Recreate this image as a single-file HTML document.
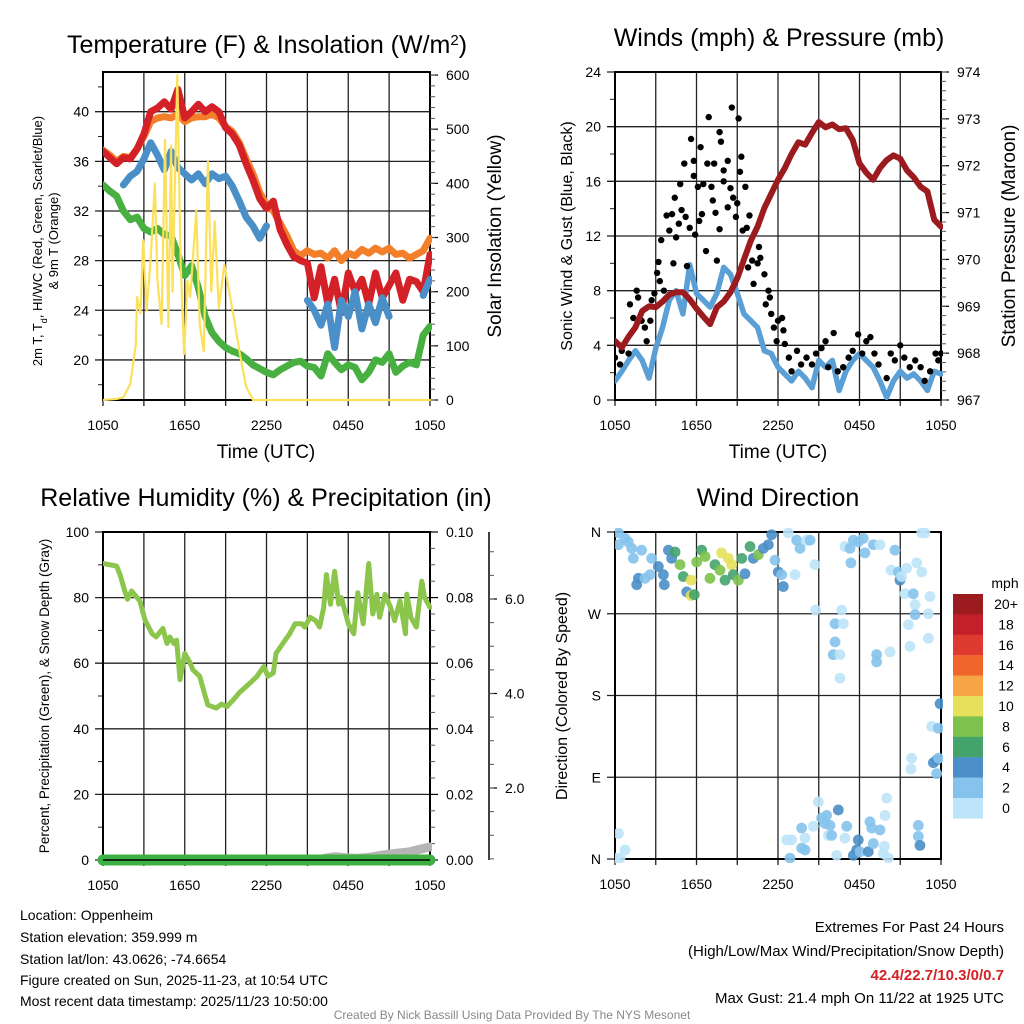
<!DOCTYPE html>
<html><head><meta charset="utf-8"><style>
html,body{margin:0;padding:0;background:#fff;}
svg{display:block;font-family:"Liberation Sans",Arial,sans-serif;}
</style></head><body>
<svg id="chart" width="1024" height="1024" viewBox="0 0 1024 1024" xmlns="http://www.w3.org/2000/svg">
<rect x="0" y="0" width="1024" height="1024" fill="#fff"/>
<text x="267" y="53" font-size="25" text-anchor="middle">Temperature (F) &amp; Insolation (W/m<tspan baseline-shift="super" font-size="15">2</tspan>)</text>
<text x="779" y="46" font-size="25" text-anchor="middle">Winds (mph) &amp; Pressure (mb)</text>
<text x="266" y="506" font-size="25" text-anchor="middle">Relative Humidity (%) &amp; Precipitation (in)</text>
<text x="778" y="506" font-size="25" text-anchor="middle">Wind Direction</text>
<text x="266" y="458" font-size="19" text-anchor="middle">Time (UTC)</text>
<text x="778" y="458" font-size="19" text-anchor="middle">Time (UTC)</text>
<text transform="translate(42,241) rotate(-90)" font-size="13" text-anchor="middle">2m T, T<tspan baseline-shift="sub" font-size="9">d</tspan>, HI/WC (Red, Green, Scarlet/Blue)</text>
<text transform="translate(58,241) rotate(-90)" font-size="13" text-anchor="middle">&amp; 9m T (Orange)</text>
<text transform="translate(501,236) rotate(-90)" font-size="19" text-anchor="middle">Solar Insolation (Yellow)</text>
<text transform="translate(572,236) rotate(-90)" font-size="16" text-anchor="middle">Sonic Wind &amp; Gust (Blue, Black)</text>
<text transform="translate(1015,236) rotate(-90)" font-size="19" text-anchor="middle">Station Pressure (Maroon)</text>
<text transform="translate(49,696) rotate(-90)" font-size="13.5" text-anchor="middle">Percent, Precipitation (Green), &amp; Snow Depth (Gray)</text>
<text transform="translate(567,696) rotate(-90)" font-size="16" text-anchor="middle">Direction (Colored By Speed)</text>
<text x="1005" y="588" font-size="14" text-anchor="middle">mph</text>
<g font-size="14">
<text x="20" y="920">Location: Oppenheim</text>
<text x="20" y="942">Station elevation: 359.999 m</text>
<text x="20" y="964">Station lat/lon: 43.0626; -74.6654</text>
<text x="20" y="985">Figure created on Sun, 2025-11-23, at 10:54 UTC</text>
<text x="20" y="1006">Most recent data timestamp: 2025/11/23 10:50:00</text>
</g>
<g font-size="15" text-anchor="end">
<text x="1004" y="932">Extremes For Past 24 Hours</text>
<text x="1004" y="956">(High/Low/Max Wind/Precipitation/Snow Depth)</text>
<text x="1004" y="980" fill="#d42027" font-weight="bold">42.4/22.7/10.3/0/0.7</text>
<text x="1004" y="1003">Max Gust: 21.4 mph On 11/22 at 1925 UTC</text>
</g>
<text x="512" y="1019" font-size="12" fill="#888" text-anchor="middle">Created By Nick Bassill Using Data Provided By The NYS Mesonet</text>
</svg>
<script>
// ---------- data ----------
const xTickLabels = ["1050","1650","2250","0450","1050"];
const tempRed = [36.8,36.3,35.8,36.3,36.2,37.0,38.2,40.0,40.3,40.8,40.2,41.8,39.5,40.0,40.6,40.0,40.4,40.0,38.7,38.2,37.3,35.8,34.5,33.0,32.2,32.8,30.5,29.3,28.3,28.0,27.8,25.0,27.5,24.5,26.5,23.8,27.0,25.5,26.5,24.5,27.0,25.0,26.0,27.0,24.8,26.5,26.3,25.5,28.5];
const temp9m = [36.9,36.5,36.0,36.4,36.3,37.0,38.0,39.2,39.5,39.6,39.5,39.8,39.2,39.5,39.6,39.6,39.8,39.5,38.8,38.4,37.5,36.2,35.0,33.5,32.5,32.0,31.0,30.0,28.8,28.4,28.8,28.5,28.6,28.2,28.8,28.0,28.6,28.4,28.9,28.6,29.0,28.7,29.0,28.5,28.6,28.2,28.5,28.8,29.8];
const tempWC = [null,null,null,34.1,34.8,35.2,36.2,37.5,36.5,35.3,36.8,35.5,35.0,34.5,35.0,34.2,35.0,34.6,34.8,34.0,32.8,31.5,30.8,29.8,30.8,null,null,null,26.8,null,24.8,24.0,22.8,24.5,21.0,24.8,23.5,25.5,22.5,24.5,23.0,25.0,23.5,null,null,null,null,25.2,26.5];
const dewpoint = [34.1,33.6,33.2,32.0,31.3,31.5,30.6,30.3,30.6,30.1,30.0,28.5,26.8,27.6,25.8,23.5,22.2,21.5,21.0,20.7,20.5,20.1,19.6,19.3,19.0,18.8,19.2,19.5,19.8,19.9,19.5,19.4,18.7,20.5,19.8,19.2,19.6,19.4,18.4,19.0,20.0,19.8,20.5,19.0,19.5,19.8,19.6,22.0,22.7];
const solarHours = [0,1.0,1.5,2.0,2.4,2.5,2.75,2.95,3.2,3.5,3.8,4.0,4.3,4.55,4.8,5.0,5.1,5.45,5.7,5.95,6.2,6.4,6.85,7.1,7.4,7.7,7.95,8.2,8.5,8.9,9.55,10.05,10.5,11.0,24];
const solarVals = [0,2,5,30,100,190,160,295,165,260,400,220,140,480,135,470,200,600,250,85,220,190,350,140,90,440,200,330,170,250,160,85,25,0,0];
const windSpeed = [1.4,2.1,2.9,3.6,2.9,1.6,3.8,5.3,7.3,8.0,6.3,9.9,7.8,7.3,6.8,7.8,9.7,9.2,7.8,6.3,5.8,5.3,3.6,3.4,2.4,1.9,1.4,2.1,1.6,0.9,2.9,2.4,2.9,0.7,2.1,2.9,3.4,2.9,2.4,1.4,0.2,1.4,2.1,1.6,1.9,1.4,0.7,2.1,1.9];
const pressure = [968.26,968.12,968.35,968.55,968.9,969.0,968.98,969.1,969.25,969.3,969.3,969.15,968.95,968.78,968.62,968.98,969.1,969.3,969.6,970.0,970.4,970.7,971.1,971.4,971.7,971.95,972.25,972.5,972.45,972.7,972.93,972.82,972.88,972.78,972.8,972.55,972.05,971.85,971.7,971.95,972.12,972.22,972.15,971.9,971.75,971.55,971.45,970.85,970.7];
const gustHours = [0,0.37,0.5,1.0,1.1,1.35,1.6,1.7,1.96,2.2,2.33,2.6,2.7,2.9,3.1,3.2,3.3,3.4,3.6,3.8,4.0,4.2,4.3,4.4,4.5,4.7,4.8,4.9,5.1,5.2,5.3,5.5,5.6,5.8,5.8,5.9,6.1,6.2,6.3,6.4,6.5,6.7,6.8,6.9,7.1,7.2,7.3,7.4,7.5,7.7,7.7,7.8,8.0,8.0,8.3,8.3,8.5,8.6,8.7,8.9,9.0,9.1,9.2,9.3,9.4,9.6,9.7,9.8,9.9,10.1,10.2,10.5,10.6,10.7,11.0,11.1,11.3,11.4,11.5,11.7,11.9,12.0,12.3,12.4,12.5,12.8,13.0,13.4,13.7,14.1,14.5,14.8,15.2,15.5,15.7,16.1,16.4,16.8,17.2,17.5,17.9,18.2,18.5,18.8,19.1,19.4,20.0,20.3,20.6,21.0,21.3,21.7,22.1,22.5,22.8,23.2,23.6,23.8,24.0];
const gustVals = [3.1,2.6,3.6,3.4,7.0,6.0,8.0,7.5,5.8,5.3,4.3,5.8,7.3,7.8,9.3,10.1,8.7,11.7,8.0,13.5,12.4,13.6,10.0,14.8,11.9,12.9,15.8,13.9,17.3,13.4,9.8,12.6,19.1,16.4,17.5,12.1,15.6,13.1,18.5,13.6,15.8,10.9,17.3,20.7,15.6,14.6,17.3,13.7,10.2,12.5,19.6,18.9,16.0,16.8,17.5,14.1,15.5,21.4,14.8,13.4,14.4,20.6,16.7,17.8,12.4,15.6,12.6,9.7,13.5,10.2,8.5,10.0,11.2,10.4,9.2,7.0,8.0,7.5,6.3,5.3,4.3,5.8,6.0,5.1,4.1,3.1,2.1,3.6,2.6,3.1,2.6,3.4,3.8,4.3,2.4,4.9,2.1,2.4,3.1,3.6,4.8,3.4,4.3,4.6,3.4,2.6,1.6,3.4,2.9,4.0,3.1,2.4,2.9,2.4,1.4,2.1,3.4,2.9,3.4];
const rhHours = [0,1.0,1.25,1.6,1.8,2.1,2.7,3.1,3.6,3.9,4.4,4.7,4.9,5.2,5.4,5.65,6.0,6.4,6.6,7.1,7.5,7.7,8.3,8.7,9.1,9.6,10.0,10.8,11.3,11.8,12.1,12.5,12.7,13.2,13.7,14.1,14.6,14.8,15.2,15.6,15.9,16.2,16.4,16.7,17.0,17.3,17.5,18.0,18.4,18.7,19.1,19.5,19.8,20.1,20.3,20.7,21.1,21.4,21.8,22.2,22.3,22.6,23.0,23.4,23.6,24.0];
const rhVals = [90.4,89.6,87,82,79.5,82,79,73,69,68,70.6,66,68,66,67,55,63,60,58,56,50,47.3,46.3,47.5,46.8,49,51,54,56,59,56,57,63,66,69,72,72,71,74,73,71,77,87,78,88,78,80,72,69,81.5,72,90.4,75,81,74,81,77,73,79,69,81,74,71,85,80,77];
const precipHours = [0,24];
const precipVals = [0,0];
const snowHours = [16.2,17,18.5,19.5,20.5,21.5,22.5,23.5,24];
const snowVals = [0.5,1,0.5,0.8,1.5,2,2.5,3.5,4];
const dirHours = [0.25,0.74,0.98,0.25,1.23,1.35,1.96,1.72,1.6,2.21,2.7,2.58,3.19,3.56,3.63,3.93,4.17,4.42,4.79,5.03,5.28,5.6,5.6,5.84,6.01,6.38,6.63,6.99,7.36,7.73,7.85,8.1,8.34,8.59,8.71,9.08,9.33,9.57,9.94,10.18,10.55,10.92,11.29,11.53,11.78,12.02,12.27,12.39,13.25,12.76,13.37,13.62,14.11,14.36,14.72,14.77,16.2,16.2,16.07,16.56,16.56,16.69,16.81,16.93,17.3,17.37,17.55,17.91,18.28,18.4,19.02,19.51,19.26,19.26,20.25,20.32,20.61,20.86,20.98,21.1,21.47,21.35,21.96,22.09,22.21,22.09,22.58,22.58,22.82,23.07,23.19,21.6,21.72,23.07,
23.93,23.31,23.8,23.68,23.44,23.8,21.84,21.79,23.68,
0.25,0.74,0.37,0,12.64,13.0,12.88,13.74,13.99,13.74,13.99,14.6,14.97,15.21,15.46,15.58,15.83,15.71,15.95,16.44,16.32,16.93,17.06,17.55,17.79,17.91,18.04,18.65,18.77,18.9,19.02,19.51,19.88,20.0,19.83,19.75,20.12,22.33,22.33,22.45];
const dirDegrees = [359,353,349,346,342,331,340,309,302,309,331,313,322,313,302,340,331,338,324,311,294,307,290,291,327,340,333,309,324,318,337,307,331,324,313,307,331,314,344,331,335,342,346,357,329,316,313,300,313,359,351,342,351,351,324,274,259,239,225,225,199,274,259,344,342,326,351,349,353,337,346,346,225,217,228,318,340,316,307,311,320,292,292,280,326,269,316,359,359,270,289,258,234,243,
171,146,144,109,106,111,111,99,94,
28,10,1,1,21,21,1,34,23,12,10,36,63,45,39,48,37,26,26,54,4,23,36,4,10,21,8,8,41,34,17,32,48,67,14,6,1,37,25,15];
const dirSpeeds = [3,3,3,3,3,3,3,5,5,3,3,3,5,5,5,5,5,7,9,7,5,11,11,7,9,7,9,9,7,9,11,7,11,11,7,9,7,5,7,5,9,5,5,5,3,5,3,5,1,1,3,3,1,3,1,1,3,3,3,1,1,1,1,1,3,3,3,3,3,3,3,1,3,3,1,1,3,3,5,1,1,1,3,1,1,3,1,1,1,1,1,1,1,1,
5,1,3,5,5,3,1,1,3,
1,1,1,1,1,1,3,3,1,3,3,1,1,3,3,3,3,1,3,5,1,1,3,5,5,5,3,5,3,3,3,3,1,1,1,1,1,3,3,5];
const cbLabels = ["20+","18","16","14","12","10","8","6","4","2","0"];
const cbColors = ["#9b1b1e","#c4202b","#de3a2f","#f0652b","#f7a444","#e6e05a","#7dc24c","#44a36b","#4a8fc8","#85c3ec","#bde4f8"];

// ---------- helpers ----------
const NS = "http://www.w3.org/2000/svg";
const svg = document.getElementById("chart");
function mk(tag, attrs, parent) {
  const e = document.createElementNS(NS, tag);
  for (const k in attrs) e.setAttribute(k, attrs[k]);
  (parent || svg).appendChild(e);
  return e;
}
function scale(d0, d1, r0, r1) { return v => r0 + (v - d0) / (d1 - d0) * (r1 - r0); }
function pathFrom(xs, ys, sx, sy) {
  let d = "", pen = false;
  for (let i = 0; i < xs.length; i++) {
    if (ys[i] === null || ys[i] === undefined) { pen = false; continue; }
    d += (pen ? "L" : "M") + sx(xs[i]).toFixed(1) + "," + sy(ys[i]).toFixed(1);
    pen = true;
  }
  return d;
}
const halfHours = tempRed.map((_, i) => i * 0.5);

const panels = [
  {id:"temperature", x0:103, x1:430, y0:72, y1:400},
  {id:"winds", x0:615, x1:941, y0:72, y1:400},
  {id:"humidity", x0:103, x1:430, y0:532, y1:860},
  {id:"direction", x0:615, x1:941, y0:532, y1:859}
];

function drawFrame(p, leftTicks, leftMinor, sy, leftFmt) {
  const g = mk("g", {});
  
  
  const sx = scale(0, 24, p.x0, p.x1);
  for (let h = 0; h <= 24; h += 3) {
    const gl = mk("line", {x1:sx(h), x2:sx(h), y1:p.y0, y2:p.y1 + 6, stroke:"#222", "stroke-width":1.3}, g);
    
    
  }
  xTickLabels.forEach((lab, i) => {
    const t = mk("text", {x:sx(i * 6), y:p.y1 + 30, "font-size":14, "text-anchor":"middle"}, g);
    t.textContent = lab;
    
    
  });
  leftTicks.forEach(v => {
    const y = sy(v);
    const gl = mk("line", {x1:p.x0 - 8, x2:p.x1, y1:y, y2:y, stroke:"#222", "stroke-width":1.3}, g);
    
    
    const t = mk("text", {x:p.x0 - 14, y:y + 5, "font-size":14, "text-anchor":"end"}, g);
    t.textContent = leftFmt(v);
    
    
  });
  leftMinor.forEach(v => {
    const y = sy(v);
    const tk = mk("line", {x1:p.x0 - 5, x2:p.x0, y1:y, y2:y, stroke:"#222", "stroke-width":1}, g);
    
    
  });
  const fr = mk("rect", {x:p.x0, y:p.y0, width:p.x1 - p.x0, height:p.y1 - p.y0, fill:"none", stroke:"#000", "stroke-width":2}, g);
  
  
  return sx;
}
function drawRight(p, ticks, minor, sy, fmt, xOff) {
  const x = p.x1 + (xOff || 0);
  const g = mk("g", {});
  
  
  if (xOff) {
    const ax = mk("line", {x1:x, x2:x, y1:p.y0, y2:p.y1, stroke:"#000", "stroke-width":1.5}, g);
    
    
  }
  ticks.forEach(v => {
    const y = sy(v);
    const tk = mk("line", {x1:x, x2:x + 8, y1:y, y2:y, stroke:"#000", "stroke-width":1.2}, g);
    
    
    const t = mk("text", {x:x + 16, y:y + 5, "font-size":14}, g);
    t.textContent = fmt(v);
    
    
  });
  minor.forEach(v => {
    const y = sy(v);
    if (y < p.y0 - 0.5 || y > p.y1 + 0.5) return;
    const tk = mk("line", {x1:x, x2:x + 5, y1:y, y2:y, stroke:"#555", "stroke-width":1}, g);
    
    
  });
}
function clipFor(p) {
  const cp = mk("clipPath", {id:"clip-" + p.id});
  mk("rect", {x:p.x0, y:p.y0 - 4, width:p.x1 - p.x0 + 2, height:p.y1 - p.y0 + 8}, cp);
  return "url(#clip-" + p.id + ")";
}
function range(a, b, s) { const r = []; for (let v = a; v <= b + 1e-9; v += s) r.push(+v.toFixed(4)); return r; }

// ---------- panel 1 ----------
(function(){
  const p = panels[0];
  const sy = scale(16.77, 43.2, p.y1, p.y0);
  const syR = scale(0, 605.6, p.y1, p.y0);
  const sx = drawFrame(p, [20,24,28,32,36,40], range(18,42,4), sy, v => v);
  drawRight(p, range(0,600,100), range(0,600,20), syR, v => v);
  const g = mk("g", {"clip-path":clipFor(p), fill:"none", "stroke-linejoin":"round", "stroke-linecap":"round"});
  
  
  const o = mk("path", {d:pathFrom(halfHours, temp9m, sx, sy), stroke:"#f47f2a", "stroke-width":7}, g);
  
  
  const r = mk("path", {d:pathFrom(halfHours, tempRed, sx, sy), stroke:"#d42027", "stroke-width":7}, g);
  
  
  const b = mk("path", {d:pathFrom(halfHours, tempWC, sx, sy), stroke:"#4a8fc8", "stroke-width":7}, g);
  
  
  const gr = mk("path", {d:pathFrom(halfHours, dewpoint, sx, sy), stroke:"#47b040", "stroke-width":7}, g);
  
  
  const y = mk("path", {d:pathFrom(solarHours, solarVals, sx, syR), stroke:"#fbe05c", "stroke-width":2.2}, g);
  
  
})();

// ---------- panel 2 ----------
(function(){
  const p = panels[1];
  const sy = scale(0, 24, p.y1, p.y0);
  const syR = scale(967, 974, p.y1, p.y0);
  const sx = drawFrame(p, range(0,24,4), range(2,22,4), sy, v => v);
  drawRight(p, range(967,974,1), range(967,974,0.2), syR, v => v);
  const g = mk("g", {"clip-path":clipFor(p), fill:"none", "stroke-linejoin":"round", "stroke-linecap":"round"});
  
  
  const w = mk("path", {d:pathFrom(halfHours, windSpeed, sx, sy), stroke:"#5a9fd6", "stroke-width":5.5}, g);
  
  
  gustHours.forEach((h, i) => {
    const c = mk("circle", {cx:sx(h), cy:sy(gustVals[i]), r:3.2, fill:"#000"}, g);
    
    
  });
  const pr = mk("path", {d:pathFrom(halfHours, pressure, sx, syR), stroke:"#9b1b1e", "stroke-width":6}, g);
  
  
})();

// ---------- panel 3 ----------
(function(){
  const p = panels[2];
  const sy = scale(0, 100, p.y1, p.y0);
  const syR = scale(0, 0.10, p.y1, p.y0);
  const sySnow = scale(2, 6, 788, 599);
  const sx = drawFrame(p, range(0,100,20), range(10,90,20), sy, v => v);
  drawRight(p, range(0,0.10,0.02), range(0.01,0.09,0.02).concat(range(0.005,0.1,0.01)), syR, v => v.toFixed(2));
  drawRight(p, [2,4,6], range(0,7.5,0.5), sySnow, v => v.toFixed(1), 59);
  const g = mk("g", {"clip-path":clipFor(p), fill:"none", "stroke-linejoin":"round", "stroke-linecap":"round"});
  
  
  const s = mk("path", {d:pathFrom(snowHours, snowVals, sx, sy), stroke:"#b5b5b5", "stroke-width":9}, g);
  
  
  const pc = mk("path", {d:pathFrom(precipHours, precipVals, sx, syR), stroke:"#3cb043", "stroke-width":11, "stroke-linecap":"round"}, svg);
  
  
  const rh = mk("path", {d:pathFrom(rhHours, rhVals, sx, sy), stroke:"#8bc54c", "stroke-width":5}, g);
  
  
  const base = mk("line", {x1:p.x0, x2:p.x1, y1:p.y1, y2:p.y1, stroke:"#000", "stroke-width":1.5});
  
  
})();

// ---------- panel 4 ----------
(function(){
  const p = panels[3];
  const sy = scale(0, 360, p.y1, p.y0);
  const dirLabels = {0:"N", 90:"E", 180:"S", 270:"W", 360:"N"};
  const sx = drawFrame(p, [0,90,180,270,360], [], sy, v => dirLabels[v]);
  function colorFor(spd) { const idx = Math.min(10, Math.floor(spd / 2)); return cbColors[10 - idx]; }
  const g = mk("g", {"clip-path":clipFor(p)});
  
  
  dirHours.forEach((h, i) => {
    const c = mk("circle", {cx:sx(h), cy:sy(dirDegrees[i]), r:5.4, fill:colorFor(dirSpeeds[i]), "fill-opacity":0.9}, g);
    
    
  });
  const cg = mk("g", {});
  
  
  cbColors.forEach((col, i) => {
    const r = mk("rect", {x:953, y:594 + i * 20.4, width:30, height:20.6, fill:col}, cg);
    
    
    const t = mk("text", {x:1006, y:594 + i * 20.4 + 15, "font-size":14, "text-anchor":"middle"}, cg);
    t.textContent = cbLabels[i];
    
    
  });
})();
</script>
</body></html>
